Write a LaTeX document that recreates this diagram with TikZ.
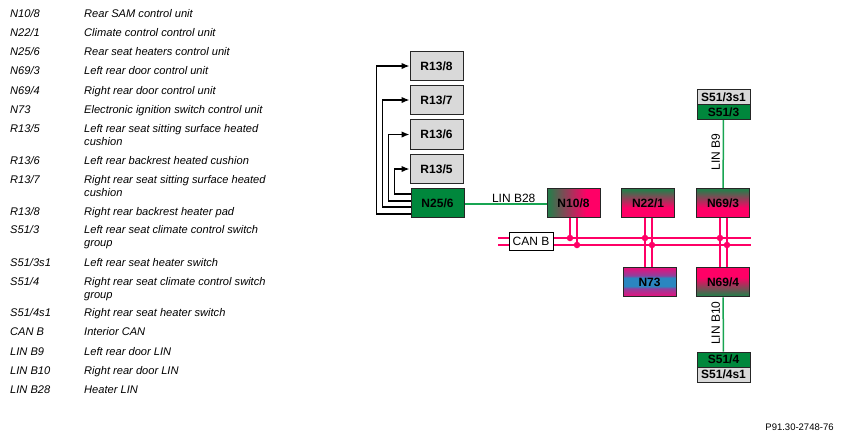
\documentclass[tikz,border=0pt]{standalone}
\usepackage{fontspec}
\setmainfont{Liberation Sans}
\usetikzlibrary{positioning, arrows.meta, calc}
\definecolor{busred}{HTML}{ff0066}
\definecolor{lingreen}{HTML}{00873c}
\definecolor{darkgreen}{HTML}{2b7a4b}
\definecolor{wiregreen}{HTML}{18a552}
\definecolor{boxgray}{HTML}{d9d9d9}
\definecolor{ignblue}{HTML}{2a86c0}
\definecolor{ignpurple}{HTML}{8f3f9c}
\definecolor{ignpink}{HTML}{e0147f}
\pgfdeclareverticalshading{greentop}{100bp}{color(0bp)=(busred); color(42bp)=(busred); color(72bp)=(darkgreen); color(100bp)=(darkgreen)}
\pgfdeclareverticalshading{greenbot}{100bp}{color(0bp)=(darkgreen); color(28bp)=(darkgreen); color(58bp)=(busred); color(100bp)=(busred)}
\pgfdeclareverticalshading{ignband}{100bp}{color(0bp)=(ignpink); color(27bp)=(ignpink); color(39bp)=(ignpurple); color(43bp)=(ignblue); color(57bp)=(ignblue); color(61bp)=(ignpurple); color(73bp)=(ignpink); color(100bp)=(ignpink)}
\pgfdeclarehorizontalshading{greenleft}{100bp}{color(0bp)=(darkgreen); color(27bp)=(darkgreen); color(62bp)=(busred); color(100bp)=(busred)}
\begin{document}
\begin{tikzpicture}[
  x=1pt, y=-1pt,
  unit/.style={
    draw=black!85, line width=1pt, minimum width=53pt, minimum height=29.5pt,
    inner sep=0pt, font=\fontsize{12}{14}\selectfont\bfseries
  },
  heater/.style={unit, fill=boxgray},
  greenunit/.style={unit, fill=lingreen},
  horizmix/.style={unit, shading=greenleft},
  topgreen/.style={unit, shading=greentop},
  botgreen/.style={unit, shading=greenbot},
  ignunit/.style={unit, shading=ignband},
  switchtop/.style={unit, minimum height=15pt, fill=boxgray},
  switchgrn/.style={unit, minimum height=15pt, fill=lingreen},
  feed/.style={-{Latex[length=8pt,width=6.5pt]}, line width=1.4pt, black},
  linwire/.style={wiregreen, line width=1.5pt},
  canwire/.style={busred, line width=1.8pt},
  splice/.style={circle, fill=busred, inner sep=0pt, minimum size=6.5pt},
  wirelabel/.style={text=black, font=\fontsize{12}{14}\selectfont, inner sep=1pt},
  legend/.style={anchor=north west, inner sep=0pt, align=left, font=\fontsize{11.1}{13}\selectfont\itshape}
]
\useasboundingbox (0,0) rectangle (842,440);

% legend
\foreach \row/\y/\code/\txt in {
  1/13/{N10/8}/{Rear SAM control unit},
  2/32/{N22/1}/{Climate control control unit},
  3/51/{N25/6}/{Rear seat heaters control unit},
  4/70/{N69/3}/{Left rear door control unit},
  5/90/{N69/4}/{Right rear door control unit},
  6/109/{N73}/{Electronic ignition switch control unit},
  7/128/{R13/5}/{Left rear seat sitting surface heated\\cushion},
  8/160/{R13/6}/{Left rear backrest heated cushion},
  9/179/{R13/7}/{Right rear seat sitting surface heated\\cushion},
  10/211/{R13/8}/{Right rear backrest heater pad},
  11/229/{S51/3}/{Left rear seat climate control switch\\group},
  12/262/{S51/3s1}/{Left rear seat heater switch},
  13/281/{S51/4}/{Right rear seat climate control switch\\group},
  14/312/{S51/4s1}/{Right rear seat heater switch},
  15/331/{CAN B}/{Interior CAN},
  16/351/{LIN B9}/{Left rear door LIN},
  17/370/{LIN B10}/{Right rear door LIN},
  18/389/{LIN B28}/{Heater LIN}} {
  \node[legend] (code\row) at (10,\y-4.5) {\strut\code};
  \node[legend] (desc\row) at (84,\y-4.5) {\strut\txt};
}

% heater pads and their control unit
\node[heater] (r138) at (436.5,66) {R13/8};
\node[heater] (r137) at (436.5,100) {R13/7};
\node[heater] (r136) at (436.5,134.5) {R13/6};
\node[heater] (r135) at (436.5,169) {R13/5};
\node[greenunit] (n256) at (437.5,203) {N25/6};

% control units on the bus
\node[horizmix] (n108) at (573.5,203) {N10/8};
\node[topgreen] (n221) at (648,203) {N22/1};
\node[topgreen] (n693) at (723,203) {N69/3};
\node[ignunit] (n73) at (649.5,282) {N73};
\node[botgreen] (n694) at (723,282) {N69/4};

% door switches
\node[switchtop] (s513s1) at (723.5,97) {S51/3s1};
\node[switchgrn] (s513) at (723.5,112) {S51/3};
\node[switchgrn] (s514) at (723.5,359.5) {S51/4};
\node[switchtop] (s514s1) at (723.5,374.5) {S51/4s1};

% CAN B
\coordinate (busa) at (498,238);
\coordinate (busb) at (498,245);
\coordinate (busaend) at (751,238);
\coordinate (busbend) at (751,245);
\draw[canwire] (busa) -- (busaend);
\draw[canwire] (busb) -- (busbend);
\node[draw=black, fill=white, line width=1pt, inner sep=0pt, minimum width=44pt, minimum height=18pt, font=\fontsize{12}{14}\selectfont] (canb) at (531,241) {CAN B};

\foreach \name/\xa/\xb in {n108/570/577, n221/645/652, n693/720/727} {
  \node[splice] (\name a) at (\xa,238) {};
  \node[splice] (\name b) at (\xb,245) {};
  \draw[canwire] (\name.south -| \name a) -- (\name a);
  \draw[canwire] (\name.south -| \name b) -- (\name b);
}
\draw[canwire] (n221a) -- (n221a |- n73.north);
\draw[canwire] (n221b) -- (n221b |- n73.north);
\draw[canwire] (n693a) -- (n693a |- n694.north);
\draw[canwire] (n693b) -- (n693b |- n694.north);

% LIN
\draw[linwire] ([yshift=-1pt]n256.east) -- node[wirelabel, above, pos=.6] (linb28) {LIN B28} ([yshift=-1pt]n108.west);
\draw[linwire] (s513) -- node[wirelabel, rotate=90, above, pos=.47, yshift=1.5pt] (linb9) {LIN B9} (n693);
\draw[linwire] (n694) -- node[wirelabel, rotate=90, above, pos=.48, yshift=1.5pt] (linb10) {LIN B10} (s514);

% heater feeds
\draw[feed] ([yshift=9pt]n256.west) -- ++(-16,0) |- (r135.west);
\draw[feed] ([yshift=2pt]n256.west) -- ++(-22,0) |- (r136.west);
\draw[feed] ([yshift=-4pt]n256.west) -- ++(-28,0) |- (r137.west);
\draw[feed] ([yshift=-11pt]n256.west) -- ++(-34,0) |- (r138.west);

\node[font=\fontsize{9.5}{11}\selectfont, inner sep=0pt] (partno) at (799.5,427) {P91.30-2748-76};
\end{tikzpicture}
\end{document}
